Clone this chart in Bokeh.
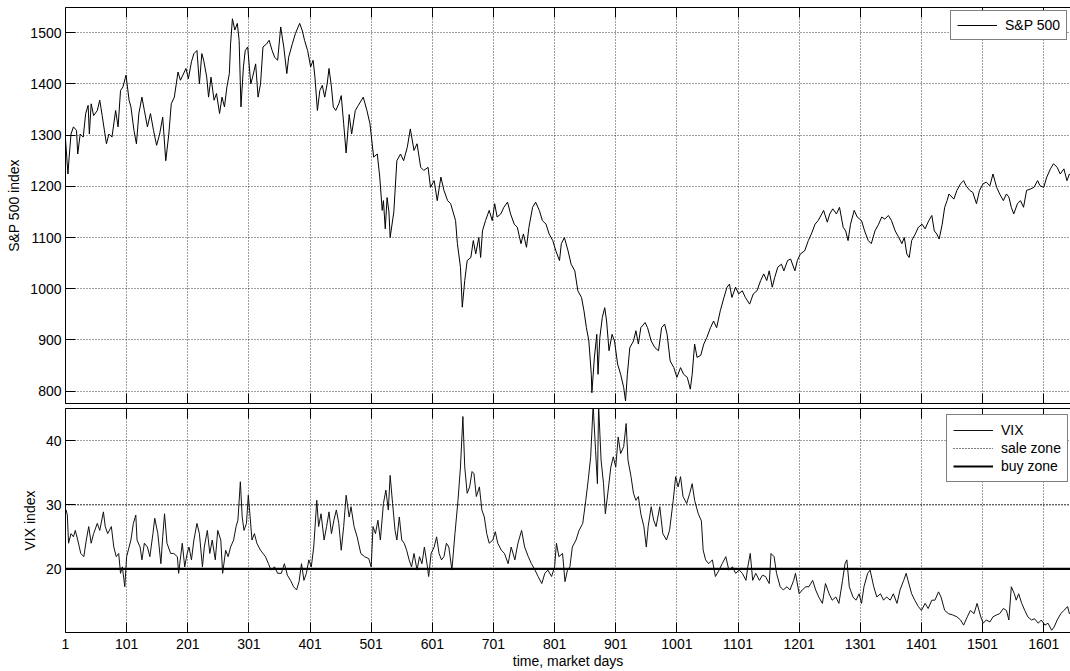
from bokeh.plotting import figure
from bokeh.layouts import column
from bokeh.models import LinearAxis, FixedTicker, Range1d, Legend, LegendItem
from bokeh.embed import file_html
from bokeh.resources import INLINE

FONT = "Liberation Sans"

# ---------------- data ----------------
spx_day = [1, 5, 7, 10, 14, 19, 21, 25, 30, 34, 38, 40, 43, 47, 53, 57, 61, 65, 68, 72, 77, 83, 87, 91, 95,
           100, 105, 108, 113, 117, 121, 126, 130, 135, 140, 145, 150, 155, 160, 165, 170, 174, 179, 185,
           189, 193, 198, 202, 207, 211, 216, 220, 224, 227, 232, 235, 239, 244, 248, 253, 257, 261, 265,
           269, 271, 274, 278, 282, 285, 288, 292, 295, 299, 304, 307, 312, 316, 320, 324, 330, 334, 339,
           343, 348, 353, 358, 363, 366, 372, 377, 384, 388, 392, 397, 402, 406, 409, 413, 417, 421, 425,
           429, 432, 436, 439, 443, 448, 452, 456, 460, 465, 469, 475, 480, 488, 494, 499, 505, 511, 515,
           519, 521, 524, 527, 530, 532, 538, 543, 549, 554, 560, 565, 571, 576, 582, 587, 594, 598, 604,
           609, 615, 620, 626, 631, 639, 642, 647, 650, 654, 658, 664, 668, 672, 677, 680, 683, 688, 694,
           699, 703, 707, 713, 718, 724, 729, 735, 740, 746, 750, 755, 759, 765, 770, 776, 781, 787, 792,
           798, 803, 809, 812, 817, 823, 828, 834, 839, 845, 849, 853, 857, 861, 862, 866, 870, 872, 875,
           879, 883, 886, 890, 895, 899, 904, 909, 914, 917, 920, 924, 930, 934, 938, 942, 949, 953, 959,
           965, 971, 976, 981, 985, 990, 996, 1001, 1007, 1012, 1018, 1023, 1026, 1030, 1034, 1040, 1045,
           1050, 1056, 1061, 1066, 1072, 1078, 1083, 1087, 1091, 1097, 1102, 1108, 1113, 1120, 1126, 1132,
           1138, 1143, 1148, 1152, 1157, 1161, 1166, 1172, 1176, 1182, 1187, 1194, 1198, 1203, 1210, 1216,
           1221, 1227, 1232, 1238, 1241, 1247, 1251, 1256, 1262, 1267, 1273, 1277, 1281, 1285, 1291, 1296,
           1303, 1308, 1314, 1319, 1325, 1331, 1336, 1341, 1347, 1352, 1358, 1364, 1369, 1373, 1377, 1381,
           1385, 1391, 1396, 1402, 1407, 1413, 1418, 1422, 1426, 1430, 1435, 1439, 1443, 1446, 1454, 1459,
           1465, 1470, 1474, 1480, 1485, 1491, 1496, 1502, 1507, 1513, 1518, 1524, 1529, 1535, 1540, 1544,
           1548, 1552, 1558, 1563, 1568, 1573, 1580, 1585, 1591, 1595, 1601, 1606, 1612, 1617, 1623, 1628,
           1634, 1639, 1643, 1647]
spx_val = [1292, 1224, 1257, 1302, 1316, 1309, 1263, 1302, 1296, 1342, 1358, 1302, 1361, 1338, 1348, 1368,
           1338, 1306, 1283, 1302, 1296, 1348, 1316, 1387, 1394, 1417, 1368, 1355, 1309, 1283, 1342, 1374,
           1348, 1316, 1342, 1309, 1280, 1302, 1335, 1250, 1302, 1361, 1374, 1423, 1407, 1417, 1430, 1410,
           1443, 1459, 1465, 1400, 1459, 1446, 1413, 1374, 1413, 1368, 1381, 1342, 1374, 1355, 1394, 1420,
           1478, 1527, 1505, 1518, 1485, 1355, 1433, 1465, 1472, 1400, 1413, 1439, 1374, 1400, 1472, 1478,
           1485, 1465, 1452, 1446, 1511, 1472, 1420, 1452, 1478, 1498, 1518, 1505, 1485, 1465, 1433, 1446,
           1413, 1348, 1387, 1397, 1374, 1400, 1430, 1394, 1355, 1348, 1361, 1377, 1322, 1265, 1340, 1302,
           1348, 1358, 1374, 1348, 1322, 1257, 1263, 1218, 1153, 1172, 1117, 1178, 1150, 1100, 1150, 1250,
           1263, 1250, 1276, 1312, 1270, 1283, 1237, 1231, 1237, 1198, 1211, 1172, 1218, 1192, 1172, 1166,
           1133, 1088, 1042, 964, 1016, 1055, 1061, 1094, 1068, 1100, 1061, 1113, 1133, 1153, 1133, 1166,
           1140, 1146, 1159, 1169, 1146, 1126, 1120, 1088, 1107, 1081, 1120, 1159, 1169, 1153, 1133, 1126,
           1107, 1094, 1074, 1055, 1088, 1100, 1074, 1048, 1035, 996, 983, 957, 924, 898, 833, 797, 865,
           911, 833, 905, 944, 963, 937, 879, 911, 898, 853, 833, 807, 781, 833, 885, 898, 918, 892, 924,
           934, 924, 898, 885, 879, 924, 931, 911, 859, 846, 827, 846, 833, 827, 804, 833, 892, 866, 870,
           892, 905, 924, 937, 924, 957, 983, 1003, 1009, 983, 1003, 990, 996, 983, 970, 990, 996, 1016,
           1029, 1016, 1035, 1003, 1022, 1042, 1048, 1035, 1055, 1058, 1035, 1055, 1068, 1074, 1094, 1107,
           1126, 1133, 1146, 1153, 1130, 1146, 1156, 1146, 1159, 1120, 1113, 1094, 1126, 1153, 1140, 1133,
           1113, 1094, 1088, 1113, 1126, 1140, 1136, 1143, 1133, 1113, 1100, 1088, 1100, 1068, 1061, 1094,
           1107, 1120, 1126, 1117, 1133, 1143, 1113, 1107, 1097, 1126, 1159, 1172, 1185, 1175, 1192, 1205,
           1211, 1201, 1192, 1188, 1166, 1192, 1205, 1208, 1201, 1224, 1198, 1185, 1172, 1185, 1179, 1159,
           1146, 1166, 1172, 1159, 1192, 1195, 1198, 1211, 1201, 1198, 1218, 1234, 1244, 1237, 1224, 1234,
           1211, 1224, 1218]

vix_day = [2, 4, 6, 10, 14, 17, 21, 26, 31, 35, 39, 43, 47, 53, 57, 63, 66, 70, 76, 80, 84, 88, 91, 94, 98,
           101, 105, 108, 112, 116, 118, 123, 126, 130, 135, 139, 144, 147, 152, 157, 160, 163, 167, 173,
           178, 184, 186, 192, 196, 200, 203, 207, 211, 216, 220, 225, 228, 233, 237, 241, 246, 250, 255,
           258, 263, 267, 271, 276, 280, 283, 287, 290, 293, 297, 300, 303, 306, 310, 314, 320, 324, 328,
           333, 337, 343, 348, 354, 359, 364, 369, 374, 379, 383, 387, 391, 395, 399, 403, 407, 412, 415,
           419, 424, 428, 432, 436, 440, 444, 448, 452, 456, 460, 465, 468, 473, 478, 484, 490, 497, 501,
           504, 508, 512, 516, 521, 525, 529, 532, 536, 540, 543, 547, 551, 555, 559, 563, 567, 571, 576,
           580, 584, 588, 593, 595, 599, 604, 608, 612, 616, 620, 624, 628, 633, 638, 643, 647, 651, 654,
           658, 662, 666, 669, 673, 678, 682, 686, 690, 694, 700, 704, 708, 714, 719, 725, 730, 736, 741,
           747, 752, 758, 763, 769, 774, 780, 785, 790, 796, 801, 804, 808, 814, 818, 822, 826, 830, 836,
           841, 847, 852, 856, 860, 864, 868, 871, 873, 877, 881, 884, 888, 893, 897, 901, 905, 909, 914,
           918, 921, 926, 930, 934, 938, 942, 947, 951, 954, 959, 963, 967, 973, 978, 984, 989, 995, 999,
           1003, 1007, 1011, 1017, 1022, 1026, 1030, 1036, 1041, 1044, 1048, 1053, 1059, 1064, 1070, 1075,
           1081, 1086, 1092, 1097, 1103, 1108, 1114, 1117, 1121, 1125, 1130, 1136, 1141, 1146, 1152, 1155,
           1160, 1164, 1170, 1175, 1181, 1186, 1192, 1195, 1201, 1206, 1212, 1217, 1223, 1228, 1233, 1239,
           1244, 1250, 1255, 1261, 1266, 1272, 1276, 1279, 1283, 1289, 1294, 1299, 1303, 1307, 1313, 1317,
           1323, 1328, 1334, 1339, 1344, 1350, 1355, 1361, 1366, 1372, 1376, 1379, 1385, 1390, 1396, 1401,
           1407, 1412, 1418, 1423, 1429, 1433, 1439, 1445, 1452, 1459, 1465, 1470, 1476, 1481, 1487, 1492,
           1498, 1502, 1507, 1513, 1518, 1524, 1529, 1535, 1540, 1544, 1548, 1553, 1556, 1560, 1565, 1570,
           1575, 1581, 1586, 1592, 1597, 1603, 1608, 1614, 1618, 1623, 1629, 1634, 1640, 1643, 1647]
vix_val = [29.2, 28.4, 24.0, 25.5, 25.0, 26.0, 24.5, 22.4, 21.9, 24.5, 26.6, 24.0, 25.5, 27.1, 26.0, 28.9,
           26.6, 25.5, 26.6, 23.4, 21.9, 22.4, 19.3, 20.3, 17.2, 21.9, 23.4, 24.5, 27.1, 28.4, 24.5, 23.4,
           21.4, 24.0, 23.4, 21.9, 25.5, 27.9, 25.5, 20.8, 25.0, 28.6, 24.0, 22.4, 22.4, 21.9, 19.3, 24.0,
           20.3, 22.4, 23.4, 21.4, 24.5, 27.1, 25.5, 20.3, 23.4, 26.0, 22.4, 24.5, 21.4, 26.0, 24.5, 19.3,
           22.9, 21.9, 23.4, 24.5, 26.6, 27.6, 33.6, 28.1, 26.0, 27.1, 31.5, 28.1, 24.5, 25.5, 24.0, 22.9,
           22.4, 21.9, 20.8, 19.8, 20.3, 19.3, 19.3, 20.8, 19.0, 18.2, 17.2, 16.7, 18.0, 20.8, 18.2, 19.3,
           21.4, 20.3, 23.4, 30.7, 26.6, 28.6, 24.5, 26.6, 28.9, 25.5, 27.6, 29.2, 27.1, 22.9, 26.6, 31.5,
           28.1, 29.7, 26.6, 25.0, 22.4, 21.9, 21.6, 20.3, 26.6, 25.5, 27.6, 24.5, 30.2, 32.3, 29.2, 34.6,
           30.2, 26.0, 24.5, 28.1, 24.5, 24.0, 22.9, 21.4, 20.3, 22.4, 19.8, 21.9, 20.8, 23.4, 20.3, 18.8,
           22.4, 23.4, 25.0, 22.4, 21.4, 21.9, 24.0, 23.4, 19.8, 25.5, 30.7, 35.9, 43.8, 35.9, 31.8, 32.8,
           35.2, 34.9, 31.3, 32.8, 29.2, 28.1, 25.5, 24.0, 24.5, 25.8, 24.0, 22.9, 22.4, 20.8, 23.4, 21.4,
           24.0, 26.0, 23.4, 21.9, 20.8, 19.8, 18.8, 17.7, 19.3, 19.8, 18.8, 20.3, 24.0, 21.9, 22.4, 18.0,
           19.8, 20.3, 23.4, 24.5, 26.0, 27.1, 30.7, 33.9, 37.5, 45.5, 38.5, 33.3, 45.5, 37.0, 33.3, 28.6,
           31.8, 35.9, 37.5, 35.9, 40.6, 38.0, 39.1, 42.7, 37.0, 34.4, 31.8, 30.7, 31.3, 28.6, 26.6, 23.4,
           26.6, 29.7, 27.6, 26.6, 29.7, 25.5, 24.5, 26.0, 30.7, 34.4, 32.8, 34.4, 31.3, 30.2, 31.8, 33.3,
           30.7, 28.6, 27.5, 22.9, 21.4, 20.8, 21.4, 18.8, 19.8, 20.8, 21.9, 19.8, 20.3, 19.3, 19.8, 19.3,
           18.2, 20.3, 22.4, 18.2, 19.3, 18.2, 19.0, 18.8, 17.7, 22.4, 21.9, 19.3, 17.2, 16.7, 17.2, 16.7,
           18.2, 19.3, 16.1, 16.7, 17.2, 17.2, 18.2, 16.7, 15.6, 14.6, 17.7, 16.1, 15.1, 15.6, 14.6, 18.2,
           20.8, 21.4, 17.2, 15.6, 15.1, 16.1, 14.6, 17.2, 19.3, 19.8, 17.2, 15.6, 16.1, 15.1, 15.6, 15.1,
           16.1, 14.6, 16.7, 18.2, 19.3, 18.2, 16.1, 15.1, 14.1, 13.5, 14.6, 13.8, 15.1, 15.1, 16.4, 15.6,
           13.5, 13.0, 12.8, 12.5, 12.0, 11.2, 12.5, 13.5, 13.0, 14.6, 12.5, 11.5, 12.0, 11.7, 12.5, 12.8,
           13.0, 13.8, 13.5, 12.0, 17.2, 16.1, 15.1, 16.1, 14.6, 13.5, 12.5, 12.0, 12.2, 11.5, 12.0, 11.2,
           11.5, 10.4, 10.9, 12.0, 13.0, 13.5, 14.1, 13.0, 13.4]

sale_level = 30
buy_level = 20
zone_days = [1, 1650]

x_tick_days = [1, 101, 201, 301, 401, 501, 601, 701, 801, 901, 1001, 1101, 1201, 1301, 1401, 1501, 1601]
spx_ticks = [800, 900, 1000, 1100, 1200, 1300, 1400, 1500]
vix_ticks = [20, 30, 40]

X_RANGE = (1, 1644.8)


def style_axis(ax, ticks, labels=True):
    ax.ticker = FixedTicker(ticks=ticks)
    ax.major_tick_in = 10
    ax.major_tick_out = 0
    ax.minor_tick_line_color = None
    ax.major_tick_line_color = "black"
    ax.axis_line_color = "black"
    ax.axis_line_width = 1
    ax.major_label_text_font = FONT
    ax.major_label_text_font_size = "14px"
    ax.major_label_standoff = 4
    if labels:
        ax.major_label_text_color = "black"
    else:
        ax.major_label_text_color = None
        ax.major_label_standoff = 0
    ax.axis_label_text_font = FONT
    ax.axis_label_text_font_size = "14px"
    ax.axis_label_text_font_style = "normal"
    ax.axis_label_text_color = "black"


def style_grid(p, xt, yt):
    p.xgrid.ticker = FixedTicker(ticks=xt)
    p.ygrid.ticker = FixedTicker(ticks=yt)
    for g in (p.xgrid, p.ygrid):
        g.grid_line_color = "black"
        g.grid_line_dash = "1 2"
        g.grid_line_alpha = 0.75
        g.grid_line_width = 1


def style_legend(lg, lh):
    lg.label_text_font = FONT
    lg.label_text_font_size = "14px"
    lg.label_text_color = "black"
    lg.border_line_color = "black"
    lg.border_line_width = 1
    lg.background_fill_color = "white"
    lg.background_fill_alpha = 1.0
    lg.padding = 6
    lg.spacing = 0
    lg.margin = 0
    lg.label_height = lh
    lg.glyph_height = lh
    lg.glyph_width = 40
    lg.label_standoff = 8


# ---------------- top panel: S&P 500 ----------------
p1 = figure(width=1070, height=408, x_range=Range1d(*X_RANGE), y_range=Range1d(776, 1549),
            output_backend="svg", toolbar_location=None,
            min_border_left=65, min_border_right=0, min_border_top=7, min_border_bottom=5)
p1.outline_line_color = None
p1.background_fill_color = "white"
p1.border_fill_color = "white"
style_axis(p1.xaxis[0], x_tick_days, labels=False)
style_axis(p1.yaxis[0], spx_ticks, labels=True)
p1.yaxis[0].axis_label = "S&P 500 index"
p1.yaxis[0].axis_label_standoff = 5
top1 = LinearAxis()
style_axis(top1, x_tick_days, labels=False)
p1.add_layout(top1, "above")
style_grid(p1, x_tick_days, spx_ticks)

r_spx = p1.line(spx_day, spx_val, line_color="black", line_width=1)
lg1 = Legend(items=[LegendItem(label="S&P 500", renderers=[r_spx])], location=(885, 363))
style_legend(lg1, 14)
p1.add_layout(lg1, "center")

# ---------------- bottom panel: VIX ----------------
p2 = figure(width=1070, height=263, x_range=p1.x_range, y_range=Range1d(10.05, 45.05),
            output_backend="svg", toolbar_location=None,
            min_border_left=65, min_border_right=0, min_border_top=0, min_border_bottom=0)
p2.outline_line_color = None
p2.background_fill_color = "white"
p2.border_fill_color = "white"
style_axis(p2.xaxis[0], x_tick_days, labels=True)
p2.xaxis[0].major_label_standoff = 6
p2.xaxis[0].axis_label = "time, market days"
p2.xaxis[0].axis_label_standoff = 1
style_axis(p2.yaxis[0], vix_ticks, labels=True)
p2.yaxis[0].axis_label = "VIX index"
p2.yaxis[0].axis_label_standoff = 5
top2 = LinearAxis()
style_axis(top2, x_tick_days, labels=False)
p2.add_layout(top2, "above")
style_grid(p2, x_tick_days, vix_ticks)

r_vix = p2.line(vix_day, vix_val, line_color="#111111", line_width=1)
r_sale = p2.line(zone_days, [sale_level] * len(zone_days), line_color="black", line_width=1.2,
                 line_dash="1 2")
r_buy = p2.line(zone_days, [buy_level] * len(zone_days), line_color="black", line_width=2.2)
lg2 = Legend(items=[LegendItem(label="VIX", renderers=[r_vix]),
                    LegendItem(label="sale zone", renderers=[r_sale]),
                    LegendItem(label="buy zone", renderers=[r_buy])],
             location=(881, 150))
style_legend(lg2, 18)
p2.add_layout(lg2, "center")

layout = column(p1, p2, spacing=0)
open("out.html", "w").write(file_html(layout, INLINE))
